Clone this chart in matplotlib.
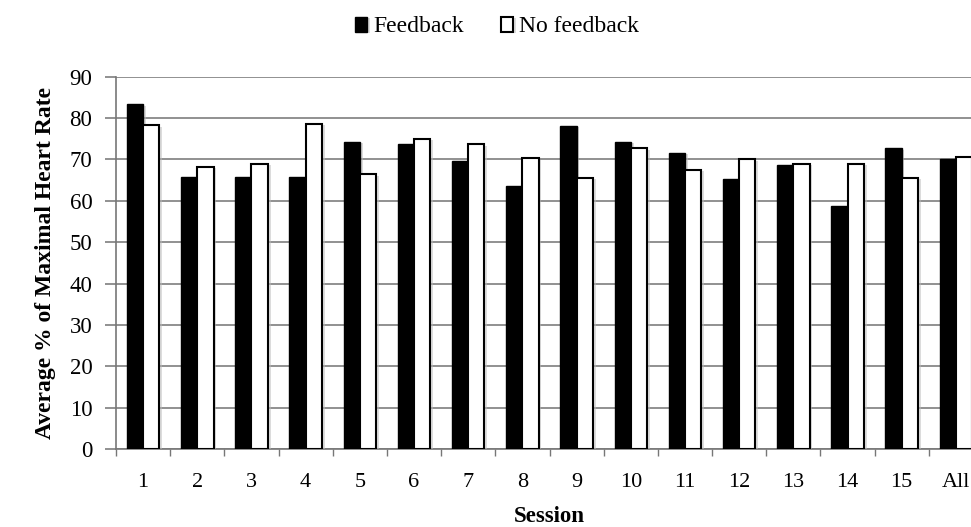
import numpy as np
import matplotlib.pyplot as plt
import matplotlib.patheffects as pe

sessions = ['1', '2', '3', '4', '5', '6', '7', '8', '9', '10', '11', '12', '13', '14', '15', 'All']
feedback = [83.3, 65.7, 65.7, 65.7, 74.3, 73.7, 69.7, 63.6, 78.2, 74.3, 71.6, 65.2, 68.6, 58.8, 72.7, 70.1]
no_feedback = [78.3, 68.3, 69.0, 78.6, 66.4, 75.0, 73.7, 70.3, 65.6, 72.7, 67.5, 70.0, 69.0, 68.9, 65.6, 70.5]

plt.rcParams['font.family'] = ['Liberation Serif', 'DejaVu Serif']

fig = plt.figure(figsize=(9.71, 5.27), dpi=100)
ax = fig.add_axes([116 / 971, 1 - 449.3 / 527, 867 / 971, (449.3 - 76.7) / 527])

x = np.arange(len(sessions))
w = 0.3
shadow = [pe.SimplePatchShadow(offset=(2, -1), shadow_rgbFace='#bbbbbb', alpha=0.5), pe.Normal()]
b1 = ax.bar(x - w / 2, feedback, w, color='black', edgecolor='black', linewidth=1, label='Feedback', zorder=3)
b2 = ax.bar(x + w / 2, no_feedback, w, color='white', edgecolor='black', linewidth=1.5, label='No feedback', zorder=3)
for b in list(b1) + list(b2):
    b.set_path_effects(shadow)

ax.set_xlim(-0.5, len(sessions) - 0.5)
ax.set_ylim(0, 90)
ax.set_yticks(range(0, 91, 10))
ax.yaxis.grid(True, color='#888888', linewidth=1.3)
ax.set_axisbelow(True)

ax.set_xticks(x)
ax.set_xticklabels(sessions, fontsize=16)
ax.set_xticks(np.arange(-0.5, len(sessions), 1), minor=True)
ax.tick_params(axis='x', which='major', length=0, pad=17)
ax.tick_params(axis='x', which='minor', length=5, color='#777777', width=1)
ax.tick_params(axis='y', length=8, color='#888888', width=1.3, labelsize=16.5, pad=9)

for s in ['top', 'right']:
    ax.spines[s].set_visible(False)
for s in ['left', 'bottom']:
    ax.spines[s].set_color('#777777')
    ax.spines[s].set_linewidth(1.2)

ax.set_ylabel('Average % of Maximal Heart Rate', fontsize=17, fontweight='bold', labelpad=10)
ax.set_xlabel('Session', fontsize=16.5, fontweight='bold', labelpad=10)

fig.legend(handles=[b1, b2], labels=['Feedback', 'No feedback'], loc='center', bbox_to_anchor=(0.512, 0.949),
           ncol=2, frameon=False, fontsize=17, handlelength=0.5, handleheight=0.6,
           handletextpad=0.25, columnspacing=1.6)

fig.savefig('out.png', dpi=100)
